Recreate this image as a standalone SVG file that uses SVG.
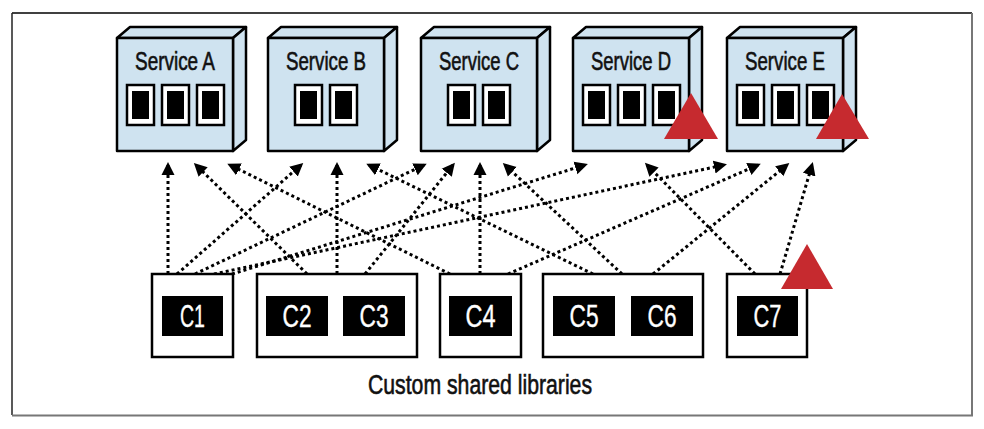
<svg xmlns="http://www.w3.org/2000/svg" width="984" height="429" viewBox="0 0 984 429">
  <defs>
    <style>
      .face { fill: #cfe3f0; stroke: #000; stroke-width: 2.5; stroke-linejoin: round; }
      .slot { fill: #fff; stroke: #000; stroke-width: 2.5; }
      .slotcore { fill: #000; }
      .svc { font-family: "Liberation Sans", Arial, sans-serif; font-size: 25px; fill: #111; stroke: #111; stroke-width: 0.6; text-anchor: middle; }
      .lib { fill: #fff; stroke: #000; stroke-width: 2.5; }
      .tag { fill: #000; }
      .tagtext { font-family: "Liberation Sans", Arial, sans-serif; font-size: 32px; fill: #fff; stroke: #fff; stroke-width: 0.4; text-anchor: middle; }
      .warn { fill: #c62a2f; }
      .dep { stroke: #000; stroke-width: 3; stroke-dasharray: 3 3; fill: none; marker-end: url(#head); }
      .caption { font-family: "Liberation Sans", Arial, sans-serif; font-size: 27px; fill: #111; stroke: #111; stroke-width: 0.6; text-anchor: middle; }
    </style>
    <marker id="head" markerUnits="userSpaceOnUse" markerWidth="16" markerHeight="16" viewBox="0 -8 16 16" refX="10" refY="0" orient="auto">
      <path d="M0,-6.5 L13,0 L0,6.5 z" fill="#000"/>
    </marker>
    <!-- service block: top, side, front face -->
    <g id="block">
      <path class="face" d="M0,0 L13,-11 L129,-11 L116,0 z"/>
      <path class="face" d="M116,0 L129,-11 L129,102 L116,113 z"/>
      <rect class="face" x="0" y="0" width="116" height="113"/>
    </g>
    <g id="slot">
      <rect class="slot" x="0" y="0" width="27" height="40"/>
      <rect class="slotcore" x="5" y="6" width="17" height="28"/>
    </g>
  </defs>

  <!-- frame -->
  <g id="frame">
    <line x1="12" y1="13" x2="972" y2="13" stroke="#000" stroke-width="1.5"/>
    <line x1="12" y1="13" x2="12" y2="415" stroke="#222" stroke-width="1.5"/>
    <line x1="972" y1="13" x2="972" y2="416" stroke="#777" stroke-width="2"/>
    <line x1="12" y1="415.5" x2="973" y2="415.5" stroke="#777" stroke-width="2"/>
  </g>

  <!-- dependency connectors -->
  <g id="connectors">
    <line class="dep" x1="168" y1="274" x2="168" y2="165"/>
    <line class="dep" x1="307" y1="274" x2="196" y2="165"/>
    <line class="dep" x1="450" y1="274" x2="230" y2="165"/>
    <line class="dep" x1="177" y1="274" x2="301" y2="165"/>
    <line class="dep" x1="337" y1="274" x2="337" y2="165"/>
    <line class="dep" x1="593" y1="274" x2="369" y2="165"/>
    <line class="dep" x1="195" y1="274" x2="424" y2="165"/>
    <line class="dep" x1="365" y1="274" x2="453" y2="165"/>
    <line class="dep" x1="480" y1="274" x2="480" y2="165"/>
    <line class="dep" x1="622" y1="274" x2="505" y2="165"/>
    <line class="dep" x1="232" y1="274" x2="585" y2="165"/>
    <line class="dep" x1="755" y1="274" x2="647" y2="165"/>
    <line class="dep" x1="214" y1="274" x2="724" y2="165"/>
    <line class="dep" x1="508" y1="274" x2="758" y2="165"/>
    <line class="dep" x1="653" y1="274" x2="787" y2="165"/>
    <line class="dep" x1="780" y1="274" x2="812" y2="165"/>
  </g>

  <!-- services -->
  <g id="service-a">
    <use href="#block" x="117" y="38"/>
    <text class="svc" x="175" y="70" textLength="80" lengthAdjust="spacingAndGlyphs">Service A</text>
    <use href="#slot" x="127" y="85"/>
    <use href="#slot" x="162" y="85"/>
    <use href="#slot" x="197" y="85"/>
  </g>
  <g id="service-b">
    <use href="#block" x="268" y="38"/>
    <text class="svc" x="326" y="70" textLength="80" lengthAdjust="spacingAndGlyphs">Service B</text>
    <use href="#slot" x="295" y="85"/>
    <use href="#slot" x="330" y="85"/>
  </g>
  <g id="service-c">
    <use href="#block" x="421" y="38"/>
    <text class="svc" x="479" y="70" textLength="80" lengthAdjust="spacingAndGlyphs">Service C</text>
    <use href="#slot" x="448" y="85"/>
    <use href="#slot" x="483" y="85"/>
  </g>
  <g id="service-d">
    <use href="#block" x="573" y="38"/>
    <text class="svc" x="631" y="70" textLength="80" lengthAdjust="spacingAndGlyphs">Service D</text>
    <use href="#slot" x="583" y="85"/>
    <use href="#slot" x="618" y="85"/>
    <use href="#slot" x="653" y="85"/>
    <polygon class="warn" points="691,93 664,139 718,139"/>
  </g>
  <g id="service-e">
    <use href="#block" x="727" y="38"/>
    <text class="svc" x="785" y="70" textLength="80" lengthAdjust="spacingAndGlyphs">Service E</text>
    <use href="#slot" x="737" y="85"/>
    <use href="#slot" x="772" y="85"/>
    <use href="#slot" x="807" y="85"/>
    <polygon class="warn" points="842,94 816,139 869,139"/>
  </g>

  <!-- shared libraries -->
  <g id="lib-c1">
    <rect class="lib" x="152" y="274" width="81" height="83"/>
    <rect class="tag" x="162" y="296" width="61" height="40"/>
    <text class="tagtext" x="192.5" y="327" textLength="25" lengthAdjust="spacingAndGlyphs">C1</text>
  </g>
  <g id="lib-c2-c3">
    <rect class="lib" x="257" y="274" width="160" height="83"/>
    <rect class="tag" x="266" y="296" width="62" height="40"/>
    <text class="tagtext" x="297" y="327" textLength="29" lengthAdjust="spacingAndGlyphs">C2</text>
    <rect class="tag" x="343" y="296" width="62" height="40"/>
    <text class="tagtext" x="374" y="327" textLength="29" lengthAdjust="spacingAndGlyphs">C3</text>
  </g>
  <g id="lib-c4">
    <rect class="lib" x="440" y="274" width="81" height="83"/>
    <rect class="tag" x="449" y="296" width="63" height="40"/>
    <text class="tagtext" x="480.5" y="327" textLength="30" lengthAdjust="spacingAndGlyphs">C4</text>
  </g>
  <g id="lib-c5-c6">
    <rect class="lib" x="543" y="274" width="160" height="83"/>
    <rect class="tag" x="553" y="296" width="62" height="40"/>
    <text class="tagtext" x="584" y="327" textLength="29" lengthAdjust="spacingAndGlyphs">C5</text>
    <rect class="tag" x="631" y="296" width="62" height="40"/>
    <text class="tagtext" x="662" y="327" textLength="29" lengthAdjust="spacingAndGlyphs">C6</text>
  </g>
  <g id="lib-c7">
    <rect class="lib" x="727" y="274" width="80" height="83"/>
    <rect class="tag" x="737" y="296" width="61" height="40"/>
    <text class="tagtext" x="767.5" y="327" textLength="28" lengthAdjust="spacingAndGlyphs">C7</text>
    <polygon class="warn" points="807,244 781,289 833,289"/>
  </g>

  <text class="caption" x="480" y="394" textLength="224" lengthAdjust="spacingAndGlyphs">Custom shared libraries</text>
</svg>
